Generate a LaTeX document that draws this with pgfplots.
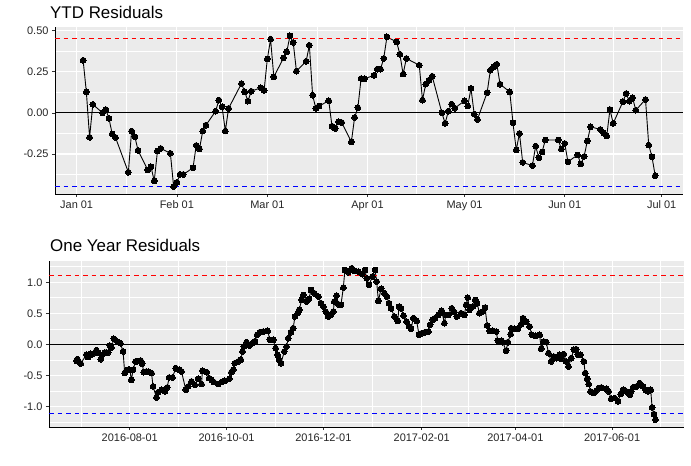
\documentclass[border=0pt]{standalone}
\usepackage{pgfplots}
\pgfplotsset{compat=1.18}
\usepackage{fontspec}
\setmainfont{Liberation Sans}
\definecolor{panelbg}{HTML}{EBEBEB}
\definecolor{ggred}{RGB}{255,0,0}
\definecolor{ggblue}{RGB}{0,0,255}
\begin{document}
\begin{tikzpicture}
\path[use as bounding box] (0,0) rectangle (691bp,466bp);
\pgfplotsset{
 ggstyle/.style={
  scale only axis,
  axis lines=left,
  axis line style={-, black, line width=0.7bp},
  axis background/.style={fill=panelbg},
  grid=both,
  major grid style={white, line width=1.1bp},
  minor grid style={white, line width=0.55bp},
  tick align=outside,
  major tick length=3bp,
  minor tick length=0pt,
  tick style={black!80, line width=0.6bp},
  ticklabel style={font=\fontsize{11}{13}\selectfont, text=black!85},
 },
 dataline/.style={black, line width=0.9bp, mark=*, mark size=2.9bp, mark options={fill=black, draw=black, line width=0bp, solid}},
}
\tikzset{
 redhl/.style={draw=ggred, line width=1.1bp, dash pattern=on 4.5bp off 4bp},
 bluehl/.style={draw=ggblue, line width=1.1bp, dash pattern=on 4.5bp off 4bp},
}
\node[anchor=base west, font=\fontsize{17}{20}\selectfont, inner sep=0pt] at (50bp,447bp) {YTD Residuals};
\node[anchor=base west, font=\fontsize{17}{20}\selectfont, inner sep=0pt] at (50bp,214bp) {One Year Residuals};
\begin{axis}[ggstyle, at={(55bp,272bp)}, anchor=south west, width=628bp, height=167bp,
 xmin=-6.7, xmax=187.6, ymin=-0.493, ymax=0.521,
 xtick={0,31,59,90,120,151,181}, xticklabels={Jan 01,Feb 01,Mar 01,Apr 01,May 01,Jun 01,Jul 01},
 minor xtick={15.5,45,74.5,105,135.5,166},
 ytick={-0.25,0,0.25,0.5}, yticklabels={-0.25,0.00,0.25,0.50},
 minor ytick={-0.375,-0.125,0.125,0.375},
]
\addplot[dataline] table {
2 0.319
3 0.127
4 -0.149
5 0.051
8 0.000
9 0.020
10 -0.034
11 -0.129
12 -0.149
16 -0.361
17 -0.111
18 -0.145
19 -0.228
22 -0.347
23 -0.327
24 -0.414
25 -0.232
26 -0.216
29 -0.246
30 -0.448
31 -0.422
32 -0.374
33 -0.374
36 -0.334
37 -0.198
38 -0.220
39 -0.111
40 -0.075
43 0.010
44 0.077
45 0.036
46 -0.111
47 0.027
51 0.178
52 0.127
53 0.071
54 0.131
57 0.152
58 0.137
59 0.327
60 0.447
61 0.218
64 0.333
65 0.370
66 0.467
67 0.427
68 0.253
71 0.313
72 0.410
73 0.107
74 0.027
75 0.041
78 0.073
79 -0.081
80 -0.095
81 -0.055
82 -0.059
85 -0.176
86 -0.028
87 0.030
88 0.208
89 0.206
92 0.228
93 0.265
94 0.265
95 0.330
96 0.461
99 0.430
100 0.356
101 0.235
102 0.330
106 0.289
107 0.077
108 0.174
109 0.198
110 0.222
113 0.000
114 -0.064
115 0.010
116 0.053
117 0.028
120 0.073
121 0.041
122 0.148
123 -0.008
124 -0.040
127 0.123
128 0.259
129 0.279
130 0.295
131 0.174
134 0.127
135 -0.061
136 -0.226
137 -0.125
138 -0.301
141 -0.321
142 -0.202
143 -0.273
144 -0.238
145 -0.165
149 -0.165
150 -0.220
151 -0.186
152 -0.297
155 -0.256
156 -0.311
157 -0.265
158 -0.171
159 -0.085
162 -0.101
163 -0.121
164 -0.141
165 0.020
166 -0.064
169 0.067
170 0.117
171 0.071
172 0.091
173 0.016
176 0.081
177 -0.196
178 -0.267
179 -0.382
};
\addplot[redhl] coordinates {(-6.7,0.45) (187.6,0.45)};
\addplot[bluehl] coordinates {(-6.7,-0.45) (187.6,-0.45)};
\addplot[color=black, line width=0.8bp] coordinates {(-6.7,0) (187.6,0)};
\end{axis}
\begin{axis}[ggstyle, at={(49bp,39bp)}, anchor=south west, width=635bp, height=166bp,
 xmin=-50.9, xmax=349.3, ymin=-1.331, ymax=1.342,
 xtick={0,61,122,184,243,304}, xticklabels={2016-08-01,2016-10-01,2016-12-01,2017-02-01,2017-04-01,2017-06-01},
 minor xtick={-30.5,30.5,91.5,153,213.5,273.5,334.5},
 ytick={-1,-0.5,0,0.5,1}, yticklabels={-1.0,-0.5,0.0,0.5,1.0},
 minor ytick={-1.25,-0.75,-0.25,0.25,0.75,1.25},
]
\addplot[dataline] table {
-33.6 -0.265
-33.0 -0.238
-32.2 -0.276
-30.9 -0.310
-27.3 -0.165
-26.3 -0.205
-25.2 -0.175
-24.6 -0.153
-23.5 -0.158
-21.0 -0.095
-20.0 -0.135
-18.3 -0.240
-17.4 -0.169
-15.7 -0.131
-14.7 -0.131
-13.6 -0.131
-12.6 -0.020
-11.5 -0.050
-10.0 0.088
-7.8 0.045
-5.9 0.018
-4.2 -0.115
-3.2 -0.463
-1.1 -0.410
0.0 -0.410
1.0 -0.571
2.1 -0.410
3.6 -0.276
5.0 -0.270
6.9 -0.260
7.8 -0.310
8.8 -0.447
10.5 -0.436
12.0 -0.440
13.7 -0.463
14.7 -0.678
16.8 -0.855
17.9 -0.770
20.0 -0.731
22.1 -0.758
23.6 -0.694
24.8 -0.533
26.9 -0.533
29.0 -0.383
31.1 -0.410
32.6 -0.436
35.3 -0.731
36.8 -0.678
38.9 -0.597
41.0 -0.651
43.1 -0.554
45.2 -0.640
45.8 -0.426
48.4 -0.447
50.0 -0.544
51.5 -0.571
53.0 -0.608
55.7 -0.640
57.8 -0.608
59.9 -0.587
62.7 -0.554
64.1 -0.447
65.2 -0.410
66.2 -0.303
68.3 -0.276
70.0 -0.249
71.1 -0.115
71.9 -0.035
73.6 0.035
75.3 -0.019
77.4 0.018
78.9 0.050
80.3 0.153
82.0 0.196
84.1 0.206
86.9 0.217
88.3 0.072
90.4 0.072
91.9 -0.062
93.2 -0.169
94.0 -0.249
95.3 -0.303
97.4 -0.115
98.8 -0.035
99.9 0.099
101.6 0.196
103.0 0.260
104.1 0.448
105.8 0.502
106.8 0.555
108.3 0.715
109.4 0.796
111.5 0.689
113.0 0.732
114.2 0.876
116.3 0.823
118.9 0.769
120.5 0.662
122.0 0.608
123.5 0.528
125.1 0.448
126.8 0.474
128.3 0.528
128.9 0.689
130.4 0.785
131.4 0.646
133.1 0.635
134.6 0.913
135.6 1.198
137.7 1.161
139.9 1.225
141.5 1.182
144.1 1.172
146.6 1.129
148.3 1.198
149.3 1.064
150.8 0.957
152.9 1.091
154.6 1.198
155.6 1.011
156.7 0.700
158.4 0.893
160.5 0.823
162.0 0.769
163.4 0.662
164.7 0.581
166.8 0.448
168.9 0.378
169.7 0.608
171.0 0.581
172.5 0.463
174.5 0.367
176.0 0.287
177.3 0.249
178.7 0.421
180.8 0.378
182.3 0.153
184.0 0.179
186.1 0.196
188.2 0.206
189.3 0.314
191.0 0.394
192.4 0.421
194.5 0.474
196.6 0.539
198.3 0.340
199.2 0.474
200.8 0.474
202.9 0.581
204.6 0.517
206.1 0.448
208.8 0.502
210.9 0.474
212.0 0.635
213.0 0.753
214.1 0.555
216.2 0.608
217.7 0.715
218.9 0.662
220.4 0.502
222.5 0.528
223.9 0.592
225.3 0.303
226.7 0.217
228.8 0.217
230.9 0.206
232.0 0.056
234.1 0.056
235.1 0.035
237.2 -0.104
238.3 0.035
240.0 0.163
240.4 0.260
242.5 0.249
244.6 0.249
246.7 0.324
247.8 0.421
249.9 0.367
252.0 0.287
253.4 0.153
255.5 0.136
258.3 0.153
259.3 -0.072
261.0 0.045
262.5 0.035
263.9 -0.142
265.6 -0.276
267.3 -0.196
268.7 -0.222
270.8 -0.169
271.9 -0.233
273.5 -0.158
275.0 -0.276
276.5 -0.356
278.2 -0.222
279.9 -0.088
281.3 -0.078
282.4 -0.169
284.1 -0.169
286.2 -0.276
287.0 -0.463
288.3 -0.554
289.2 -0.640
290.4 -0.758
292.5 -0.785
294.0 -0.747
295.5 -0.704
297.2 -0.694
300.3 -0.715
301.8 -0.758
303.5 -0.876
305.6 -0.865
307.7 -0.919
309.4 -0.801
310.9 -0.731
313.0 -0.758
315.1 -0.812
316.1 -0.758
317.2 -0.694
319.3 -0.678
321.4 -0.624
323.5 -0.678
325.0 -0.731
326.7 -0.758
328.3 -0.731
329.2 -1.016
330.4 -1.123
331.3 -1.214
};
\addplot[redhl] coordinates {(-50.9,1.11) (349.3,1.11)};
\addplot[bluehl] coordinates {(-50.9,-1.11) (349.3,-1.11)};
\addplot[color=black, line width=0.8bp] coordinates {(-50.9,0) (349.3,0)};
\end{axis}
\end{tikzpicture}
\end{document}
